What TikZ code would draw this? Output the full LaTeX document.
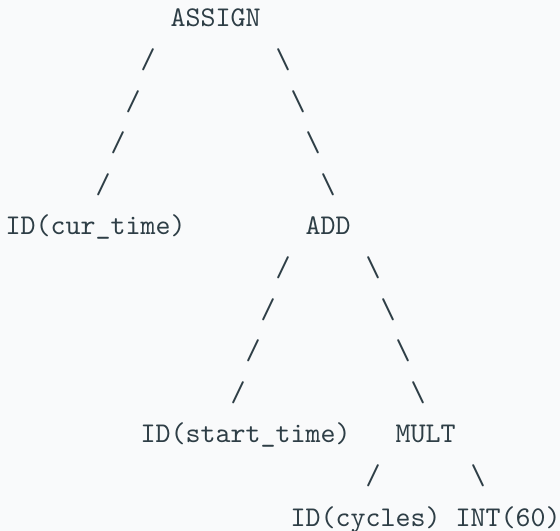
\documentclass[tikz,border=0pt]{standalone}
\usepackage{fontspec}
\usepackage{tikz}

\definecolor{ink}{RGB}{46,62,70}
\definecolor{paper}{RGB}{249,250,251}

\begin{document}
\begin{tikzpicture}[
  x=5.25pt, y=-14.56pt,
  tok/.style={anchor=base west, inner sep=0pt, font=\ttfamily, text=ink}
]
  \fill[paper] (-0.333,-0.649) rectangle (37,12.115);
  \useasboundingbox (-0.333,-0.649) rectangle (37,12.115);
  % tree nodes, placed on the character grid (column, line)
  \node[tok] (assign)    at (11,0)  {ASSIGN};
  \node[tok] (curtime)   at (0,5)   {ID(cur\_time)};
  \node[tok] (add)       at (20,5)  {ADD};
  \node[tok] (starttime) at (9,10)  {ID(start\_time)};
  \node[tok] (mult)      at (26,10) {MULT};
  \node[tok] (cycles)    at (19,12) {ID(cycles)};
  \node[tok] (sixty)     at (30,12) {INT(60)};
  % branches, one character per line
  \foreach \c/\r [count=\i] in {9/1,8/2,7/3,6/4,18/6,17/7,16/8,15/9,24/11}
    \node[tok] (fwd\i) at (\c,\r) {/};
  \foreach \c/\r [count=\i] in {18/1,19/2,20/3,21/4,24/6,25/7,26/8,27/9,31/11}
    \node[tok] (bwd\i) at (\c,\r) {\textbackslash};
\end{tikzpicture}
\end{document}
